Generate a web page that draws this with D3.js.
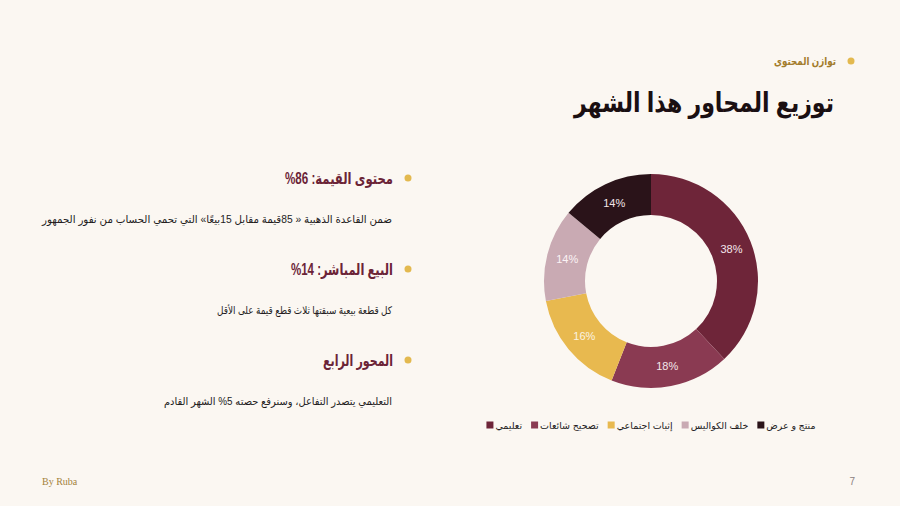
<!DOCTYPE html>
<html lang="ar">
<head>
<meta charset="utf-8">
<script src="https://cdn.jsdelivr.net/npm/d3@7"></script>
<style>
  html, body { margin: 0; padding: 0; background: #fbf7f2; }
  svg { display: block; font-family: "Liberation Sans", "DejaVu Sans", sans-serif; }
</style>
</head>
<body>
<svg id="slide" width="900" height="506"></svg>
<script>
// slide data
const categories = ["تعليمي", "تصحيح شائعات", "إثبات اجتماعي", "خلف الكواليس", "منتج و عرض"];
const shares = [38, 18, 16, 14, 14];
const sliceColors = ["#6e2539", "#8a3a52", "#e8b94f", "#c9aab3", "#2a1319"];
const labelColors = ["#f3e6ea", "#f3e6ea", "#fbf3e2", "#fbf3f5", "#f3e6ea"];

// \u2066 ... \u2069 keeps "%86" in visual order as on the slide
const points = [
  { head: "محتوى القيمة: \u2066%86\u2069", body: "ضمن القاعدة الذهبية « 85قيمة مقابل  15بيعًا» التي تحمي الحساب من نفور الجمهور" },
  { head: "البيع المباشر: \u2066%14\u2069", body: "كل قطعة بيعية سبقتها ثلاث قطع قيمة على الأقل" },
  { head: "المحور الرابع", body: "التعليمي يتصدر التفاعل، وسنرفع حصته \u2066%5\u2069 الشهر القادم" }
];
const headWidths = [108, 102, 70];
const bodyWidths = [350, 175, 228];

const svg = d3.select("#slide");
const gold = "#e3b94f";
const maroon = "#6b2437";

// right-aligned arabic text helper
function rtlText(x, y, size, weight, fill, str, width) {
  const t = svg.append("text")
    .attr("x", x).attr("y", y)
    .attr("direction", "rtl")
    .attr("text-anchor", "start")
    .attr("font-size", size)
    .attr("font-weight", weight)
    .attr("fill", fill)
    .text(str);
  if (width) {
    const w = t.node().getComputedTextLength();
    if (w > width) t.attr("textLength", width).attr("lengthAdjust", "spacingAndGlyphs");
  }
  return t;
}

// header
svg.append("circle").attr("cx", 851).attr("cy", 61).attr("r", 3.5).attr("fill", gold);
rtlText(836, 65, 11, "bold", "#a37c2c", "توازن المحتوى", 62);
rtlText(834, 112, 27, "bold", "#1a0f12", "توزيع المحاور هذا الشهر", 260);

// bullet points
const rowY = d3.scalePoint().domain(d3.range(points.length)).range([178, 360]);
points.forEach((p, i) => {
  const y = rowY(i);
  svg.append("circle").attr("cx", 408).attr("cy", y).attr("r", 3.5).attr("fill", gold);
  rtlText(393, y + 6, 16, "bold", maroon, p.head, headWidths[i]);
  rtlText(392, y + 45, 10.5, "normal", "#231c1d", p.body, bodyWidths[i]);
});

// donut
const cx = 651, cy = 281;
const outerR = 107, innerR = 66;
const pie = d3.pie().sort(null).value(d => d)(shares);
const arc = d3.arc().innerRadius(innerR).outerRadius(outerR);
const donut = svg.append("g").attr("transform", `translate(${cx},${cy})`);

donut.selectAll("path")
  .data(pie)
  .join("path")
  .attr("d", arc)
  .attr("fill", (d, i) => sliceColors[i]);

donut.selectAll("text")
  .data(pie)
  .join("text")
  .attr("transform", d => `translate(${arc.centroid(d)})`)
  .attr("text-anchor", "middle")
  .attr("dy", "0.35em")
  .attr("font-size", 11)
  .attr("fill", (d, i) => labelColors[i])
  .text(d => d.data + "%");

// legend, laid out left to right and centred under the donut
const legend = svg.append("g").attr("transform", "translate(0,425)");
const items = categories.map((c, i) => {
  const g = legend.append("g");
  g.append("rect")
    .attr("x", 0).attr("y", -3.5)
    .attr("width", 7).attr("height", 7)
    .attr("fill", sliceColors[i]);
  const t = g.append("text")
    .attr("x", 9).attr("y", 4)
    .attr("direction", "rtl")
    .attr("text-anchor", "end")
    .attr("font-size", 9.5)
    .attr("fill", "#231c1d")
    .text(c);
  return { g, w: 9 + t.node().getComputedTextLength() };
});
const gap = 9;
const total = d3.sum(items, d => d.w) + gap * (items.length - 1);
let lx = cx - total / 2;
items.forEach(d => {
  d.g.attr("transform", `translate(${lx},0)`);
  lx += d.w + gap;
});

// footer
svg.append("text")
  .attr("x", 42).attr("y", 485)
  .attr("font-family", "'Liberation Serif', serif")
  .attr("font-size", 10)
  .attr("fill", "#a3823c")
  .text("By Ruba");
svg.append("text")
  .attr("x", 855).attr("y", 485)
  .attr("text-anchor", "end")
  .attr("font-size", 10)
  .attr("fill", "#8a8080")
  .text("7");
</script>
</body>
</html>
